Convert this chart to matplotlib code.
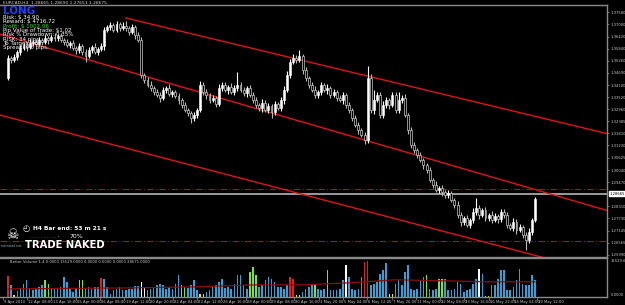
import matplotlib
matplotlib.use("Agg")
import matplotlib.pyplot as plt
import matplotlib.transforms as mtransforms
import numpy as np

# EURCAD H4 closes, 9 Apr - 19 May 2010
first_open = 1.3444
closes = [
    1.3540, 1.3530, 1.3545,
    1.3568, 1.3588, 1.3602, 1.3592, 1.3611, 1.3616, 1.3607,
    1.3626, 1.3616, 1.3635, 1.3626, 1.3640, 1.3635,
    1.3645, 1.3626, 1.3616, 1.3602, 1.3611,
    1.3588, 1.3578, 1.3597, 1.3568, 1.3549,
    1.3578, 1.3592, 1.3568, 1.3583, 1.3597,
    1.3674,
    1.3688, 1.3697, 1.3674, 1.3702, 1.3683, 1.3693,
    1.3683, 1.3664, 1.3688, 1.3650, 1.3626,
    1.3458,
    1.3435, 1.3411, 1.3396, 1.3377, 1.3363, 1.3349,
    1.3387, 1.3396, 1.3368, 1.3377, 1.3358, 1.3339,
    1.3315, 1.3291, 1.3277, 1.3253, 1.3267, 1.3291,
    1.3411,
    1.3377, 1.3363, 1.3339, 1.3349, 1.3320,
    1.3396, 1.3411, 1.3387, 1.3401, 1.3377, 1.3396, 1.3411, 1.3387, 1.3372, 1.3396, 1.3363,
    1.3339, 1.3315, 1.3301, 1.3325, 1.3291, 1.3310, 1.3281, 1.3320, 1.3301, 1.3339,
    1.3387, 1.3458, 1.3521,
    1.3540, 1.3530, 1.3549,
    1.3482, 1.3444, 1.3411, 1.3387, 1.3363, 1.3377,
    1.3411, 1.3387, 1.3396, 1.3363, 1.3377, 1.3349, 1.3339, 1.3363,
    1.3315, 1.3291, 1.3253, 1.3220, 1.3196, 1.3172, 1.3148,
    1.3444,
    1.3291, 1.3339, 1.3363, 1.3267, 1.3315,
    1.3339, 1.3315, 1.3363, 1.3291, 1.3339, 1.3349,
    1.3267, 1.3196, 1.3124, 1.3100,
    1.3076, 1.3052, 1.3028, 1.3004,
    1.2957, 1.2933, 1.2909, 1.2918, 1.2899, 1.2885, 1.2894,
    1.2861, 1.2837,
    1.2789, 1.2756, 1.2775, 1.2742, 1.2765,
    1.2804, 1.2823, 1.2789, 1.2813,
    1.2775, 1.2789, 1.2765, 1.2785, 1.2770, 1.2804, 1.2789,
    1.2742, 1.2727, 1.2756, 1.2718, 1.2732,
    1.2694, 1.2670, 1.2708,
    1.2765,
    1.2868,
]

# wick lengths beyond the body, in pips
up_wick = [
    12, 8, 15, 10, 14, 9, 12, 18, 10, 13, 16, 9, 14, 11, 12, 18, 8, 13, 10, 15,
    11, 16, 9, 13, 10, 15, 12, 8, 18, 11, 16, 12, 10, 14, 9, 16, 12, 18, 22, 10,
    14, 9, 12, 16, 10, 13, 18, 9, 15, 12, 16, 10, 20, 12, 9, 14, 10, 16, 12, 9,
    14, 10, 18, 12, 16, 10, 14, 9, 20, 12, 16, 10, 18, 14, 62, 12, 16, 10, 14, 12,
    16, 10, 18, 12, 14, 10, 16, 9, 12, 18, 22, 16, 20, 14, 30, 12, 16, 10, 14, 18,
    12, 16, 10, 18, 12, 14, 10, 16, 12, 9, 14, 10, 12, 16, 10, 14, 58, 18, 50, 16,
    12, 18, 14, 10, 16, 12, 40, 14, 18, 10, 12, 16, 10, 14, 9, 12, 16, 10, 18, 12,
    14, 10, 16, 12, 9, 18, 14, 10, 16, 12, 18, 50, 14, 10, 16, 12, 18, 14, 10, 16,
    12, 14, 10, 18, 12, 16, 10, 14, 18, 12, 6,
]
lo_wick = [
    10, 14, 9, 16, 12, 10, 18, 9, 14, 10, 12, 16, 9, 18, 10, 14, 12, 9, 16, 10,
    14, 10, 18, 12, 16, 30, 10, 14, 9, 16, 12, 18, 10, 14, 9, 12, 16, 10, 14, 12,
    10, 18, 12, 14, 14, 10, 16, 12, 9, 18, 10, 14, 12, 16, 10, 18, 12, 9, 14, 22,
    12, 16, 10, 14, 18, 12, 9, 16, 10, 14, 12, 18, 10, 16, 12, 9, 14, 18, 10, 16,
    12, 14, 18, 10, 16, 28, 12, 9, 14, 18, 10, 16, 12, 14, 10, 18, 12, 16, 10, 14,
    16, 12, 10, 18, 14, 12, 16, 10, 18, 12, 14, 16, 10, 18, 12, 18, 16, 12, 18, 10,
    14, 16, 12, 18, 10, 14, 12, 16, 10, 18, 14, 12, 16, 10, 18, 14, 12, 16, 10, 14,
    18, 12, 16, 10, 14, 12, 18, 16, 10, 14, 12, 16, 18, 10, 14, 12, 16, 10, 18, 14,
    12, 16, 10, 14, 18, 12, 16, 48, 14, 12, 10,
]

volumes = [
    8820, 5040, 840, 2520, 3780, 5460, 7140, 3360, 2940, 3360,
    4200, 5040, 7140, 5460, 3360, 3360, 3360, 4200, 8400, 6300,
    3360, 2100, 3360, 7140, 7140, 3360, 4200, 3360, 4200, 4200,
    7980, 7560, 4200, 1260, 2940, 3360, 4200, 2940, 2940, 3360,
    3360, 4620, 4620, 6300, 4200, 2940, 3360, 4200, 5040, 5460,
    5040, 3360, 4200, 3360, 5460, 9240, 5040, 4200, 3780, 5040,
    7140, 2940, 1260, 1260, 2100, 2940, 4200, 5040, 6300, 7560,
    3780, 4200, 3360, 5460, 9240, 9240, 5040, 3360, 10500, 12600,
    9240, 4200, 5040, 7140, 8400, 7560, 6300, 4200, 4200, 3360,
    5040, 8400, 7560, 840, 840, 2100, 3360, 4200, 5040, 5040,
    3360, 2940, 3360, 11340, 2940, 2940, 2940, 3360, 7140, 13440,
    8400, 3360, 2940, 3360, 8400, 14700, 15120, 5040, 5460, 6300,
    9660, 11340, 14280, 1260, 1260, 5460, 7140, 5040, 10500, 13440,
    3360, 2940, 3360, 7140, 8400, 9240, 3360, 2940, 3360, 7560,
    7560, 7560, 2940, 2940, 3360, 6300, 5460, 2100, 2940, 3360,
    5460, 7560, 11760, 9660, 420, 420, 5040, 5040, 7560, 11340,
    11340, 2940, 2940, 4200, 7140, 11760, 5460, 5040, 5040, 9240,
    7140,
]
# b=normal, g=low-vol high-range, r=climax, w=churn, y=low volume
vol_kind = ("rby" + "b" * 9 + "gg" + "b" * 9 + "gg" + "b" * 5 + "r" + "b" * 12 + "ww"
            + "b" * 11 + "gg" + "b" * 4 + "yy" + "b" * 14 + "ggg" + "b" * 10 + "rr" + "yy"
            + "b" * 4 + "g" + "bbb" + "g" + "b" * 5 + "w" + "b" * 5 + "rr" + "b" * 6 + "yy"
            + "b" * 10 + "g" + "bbb" + "gg" + "b" * 11 + "w" + "b" + "yy" + "b" * 15)
ma_idx = [0, 20, 40, 60, 80, 95, 110, 125, 140, 155, 170]
ma_vol = [3360, 3570, 3780, 4200, 5040, 5040, 5880, 7140, 6720, 6300, 6300]

price_ticks = [1.37580, 1.37000, 1.36420, 1.35840, 1.35260, 1.34690, 1.34100,
               1.33520, 1.32960, 1.32385, 1.31810, 1.31230, 1.30625, 1.30040,
               1.29470, 1.28310, 1.27730, 1.27145, 1.26565, 1.25990]
date_pos = [-1.6, 6.2, 14.0, 21.9, 29.7, 37.5, 45.4, 53.2, 61.0, 68.8, 76.7, 84.5,
            92.3, 100.2, 108.0, 115.8, 123.7, 131.5, 139.3, 147.1, 155.0, 162.8, 170.6]
date_labels = ["9 Apr 2010", "12 Apr 08:00", "13 Apr 16:00", "15 Apr 00:00",
               "16 Apr 08:00", "19 Apr 12:00", "20 Apr 20:00", "22 Apr 04:00",
               "23 Apr 12:00", "26 Apr 16:00", "28 Apr 00:00", "29 Apr 08:00",
               "30 Apr 16:00", "3 May 20:00", "5 May 04:00", "6 May 12:00",
               "7 May 20:00", "11 May 00:00", "12 May 08:00", "13 May 16:00",
               "16 May 22:05", "18 May 04:00", "19 May 12:00"]

# channel lines (bar index, price)
chan_upper = [(38, 1.3731), (193.9, 1.3176)]
chan_mid = [(-2.6, 1.3654), (193.9, 1.2808)]
chan_low = [(-2.6, 1.3267), (173.2, 1.2584)]
level_lines = [1.2914, 1.2665]
bid_line = 1.2890
bid_text = "1.28665"

info_lines = [("Risk: $ 34.90", "white"), ("Reward: $ 4716.72", "white"),
              ("Profit: $ 1002.06", "#33dd33"), ("Pip Value of Trade: $1.02", "white"),
              ("Risk % Drawdown: 0.35%", "white"), ("RISK: 34 pips", "white"),
              ("To Target: 98", "white"), ("Spread is 6 pips.", "white")]

NARROW = ["Liberation Sans Narrow", "DejaVu Sans"]

W, H = 625, 305
fig = plt.figure(figsize=(W / 100, H / 100), dpi=100, facecolor="black")
ax = fig.add_axes([0, 48.5 / H, 607 / W, 251.5 / H], facecolor="black")
axv = fig.add_axes([0, 8 / H, 607 / W, 39 / H], facecolor="black")
xlim = (-2.58, 193.2)

n = len(closes)
idx = np.arange(n)
c = np.array(closes)
o = np.concatenate([[first_open], c[:-1]])
hi = np.maximum(o, c) + np.array(up_wick) * 0.0001
lo = np.minimum(o, c) - np.array(lo_wick) * 0.0001
bull = c >= o

ax.vlines(idx, lo, hi, colors=np.where(bull, "white", "#b8b8b8"), lw=0.8, zorder=3)
body_lo = np.minimum(o, c)
body_h = np.maximum(np.abs(c - o), 0.00012)
ax.bar(idx[bull], body_h[bull], bottom=body_lo[bull], width=0.62, color="white",
       edgecolor="white", lw=0.4, zorder=4)
ax.bar(idx[~bull], body_h[~bull], bottom=body_lo[~bull], width=0.62, color="black",
       edgecolor="#c8c8c8", lw=0.5, zorder=4)

for line in (chan_upper, chan_mid, chan_low):
    (x0, y0), (x1, y1) = line
    ax.plot([x0, x1], [y0, y1], color="#e01414", lw=1.0, zorder=2)
for lv in level_lines:
    ax.axhline(lv, color="#a01818", lw=0.8, ls=(0, (6, 2, 1, 2)), zorder=1)
ax.axhline(bid_line, color="#a8a8a8", lw=1.3, zorder=1)

ax.set_xlim(*xlim)
ax.set_ylim(1.25910, 1.37931)
ax.yaxis.tick_right()
ax.set_yticks(price_ticks)
ax.set_yticklabels([f"{t:.5f}" for t in price_ticks], family=NARROW)
ax.tick_params(axis="y", colors="#909090", labelcolor="#c8c8c8", labelsize=2.7,
               length=1.5, width=0.5, pad=0.8)
ax.set_xticks([])
ax.spines["left"].set_visible(False)
for s in ("top", "right", "bottom"):
    ax.spines[s].set_color("#8a8a8a")
    ax.spines[s].set_linewidth(1.0)

trans = mtransforms.blended_transform_factory(ax.transAxes, ax.transData)
ax.text(1.004, bid_line, bid_text, transform=trans, fontsize=2.7, color="black",
        va="center", ha="left", clip_on=False, family=NARROW,
        bbox=dict(boxstyle="square,pad=0.12", fc="white", ec="white"))

# volume panel
kind_color = {"b": "#3a9fd6", "g": "#7ee23a", "r": "#dd2222", "w": "#ffffff", "y": "#e8e832"}
axv.bar(idx, volumes, width=0.5, color=[kind_color[k] for k in vol_kind], zorder=2)
axv.plot(ma_idx, ma_vol, color="#8a1010", lw=0.9, zorder=3)
axv.set_xlim(*xlim)
axv.set_ylim(0, 16170)
axv.set_yticks([])
axv.set_xticks(date_pos)
axv.set_xticklabels([])
axv.tick_params(axis="x", colors="#909090", length=2, width=0.5)
axv.spines["left"].set_visible(False)
for s in ("top", "right", "bottom"):
    axv.spines[s].set_color("#8a8a8a")
    axv.spines[s].set_linewidth(1.0)
for p, lab in zip(date_pos, date_labels):
    axv.text(p + 0.4, -1100, lab, fontsize=2.7, color="#c8c8c8", ha="left", va="top",
             clip_on=False, family=NARROW)
axv.text(0.5, 14600, "Better Volume 1.4 0.0000 15529.0000 0.0000 0.0000 0.0000 28671.0000",
         fontsize=2.7, color="#c8c8c8", ha="left", va="center", family=NARROW)
tv = mtransforms.blended_transform_factory(axv.transAxes, axv.transData)
axv.text(1.006, 14800, "15529.6", transform=tv, fontsize=2.7, color="#c8c8c8",
         va="center", ha="left", clip_on=False, family=NARROW)
axv.text(1.006, 700, "0.0000", transform=tv, fontsize=2.7, color="#c8c8c8",
         va="center", ha="left", clip_on=False, family=NARROW)


def px(x, y):
    return x / W, 1 - y / H


# top-left overlay
fig.text(*px(3, 3), "EURCAD,H4  1.28665 1.28690 1.27651 1.28675", fontsize=3.2,
         color="#d0d0d0", va="center", ha="left")
fig.text(*px(3, 11), "LONG", fontsize=7.5, color="#2040ff", fontweight="bold",
         va="center", ha="left")
for k, (txt, col) in enumerate(info_lines):
    fig.text(*px(3, 17.5 + k * 4.3), txt, fontsize=4.0, color=col,
             va="center", ha="left")

# bottom-left overlay
fig.text(*px(12, 235), "\u2620", fontsize=10, color="white", va="center", ha="center")
fig.text(*px(1, 246), "tradenaked.com", fontsize=1.9, color="#aaaaaa", va="center",
         ha="left")
fig.text(*px(26, 229), "\u25F4", fontsize=6, color="white", va="center", ha="center")
fig.text(*px(33, 229), "H4 Bar end: 53 m 21 s", fontsize=4.2, color="white",
         fontweight="bold", va="center", ha="left")
fig.text(*px(30, 236.5), "- - - - - - - - - - \u2022", fontsize=3, color="#aaaaaa",
         va="center", ha="left")
fig.text(*px(70, 236.5), "70%", fontsize=4.4, color="white", va="center", ha="left")
fig.text(*px(25, 245), "TRADE NAKED", fontsize=7.2, color="white", fontweight="bold",
         va="center", ha="left", family=NARROW)

fig.savefig("out.png", dpi=100, facecolor="black")
